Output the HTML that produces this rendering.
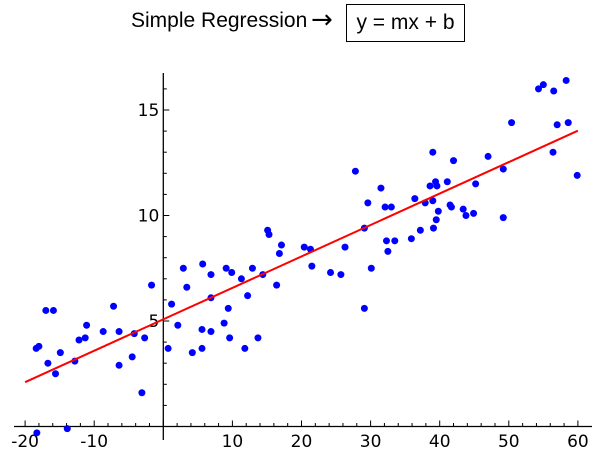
<!DOCTYPE html>
<html><head><meta charset="utf-8"><style>
body{margin:0;background:#fff;width:603px;height:459px;overflow:hidden;font-family:"Liberation Sans",sans-serif}
#title{position:absolute;left:131px;top:9px;font-size:21px;color:#000;white-space:nowrap}
#arrow{position:absolute;left:311px;top:5px;font-size:26px;font-family:"DejaVu Sans",sans-serif;color:#000}
#eq{position:absolute;left:346px;top:4px;width:119px;height:38px;border:1.5px solid #000;font-size:21px;text-align:center;line-height:36px;box-sizing:border-box}
svg{position:absolute;left:0;top:0}
</style></head><body>
<div id="title">Simple Regression</div>
<div id="arrow">→</div>
<div id="eq">y = mx + b</div>
<svg id="chart" width="603" height="459"></svg>
<script>
const xs=[-18.4,-18.0,-17.0,-15.9,-16.7,-15.6,-14.9,-18.3,-13.9,-12.8,-12.2,-11.3,-11.1,-8.7,-7.2,-6.4,-6.4,-4.5,-4.2,-3.1,-2.7,-1.7,1.2,0.7,2.1,2.9,3.4,4.2,5.6,5.6,5.7,6.9,6.9,6.9,8.8,9.1,9.4,9.6,9.9,11.3,11.8,12.2,12.9,13.7,14.4,15.1,15.3,16.4,16.8,17.1,20.4,21.3,21.5,24.2,25.7,26.3,27.8,29.1,29.1,29.6,30.1,31.5,32.1,33.0,32.3,32.5,33.5,35.9,36.4,37.2,37.9,38.6,39.0,39.0,39.4,39.6,39.1,39.5,39.8,41.1,41.5,41.7,42.0,43.4,43.8,44.9,45.2,47.0,49.2,49.2,50.4,54.3,55.0,56.5,56.4,57.0,58.3,58.6,59.9];
const ys=[3.7,3.8,5.5,5.5,3.0,2.5,3.5,-0.3,-0.1,3.1,4.1,4.2,4.8,4.5,5.7,4.5,2.9,3.3,4.4,1.6,4.2,6.7,5.8,3.7,4.8,7.5,6.6,3.5,4.6,3.7,7.7,7.2,6.1,4.5,4.9,7.5,5.6,4.2,7.3,7.0,3.7,6.2,7.5,4.2,7.2,9.3,9.1,6.7,8.2,8.6,8.5,8.4,7.6,7.3,7.2,8.5,12.1,5.6,9.4,10.6,7.5,11.3,10.4,10.4,8.8,8.3,8.8,8.9,10.8,9.3,10.6,11.4,13.0,10.7,11.6,11.4,9.4,9.8,10.2,11.6,10.5,10.4,12.6,10.3,10.0,10.1,11.5,12.8,12.2,9.9,14.4,16.0,16.2,15.9,13.0,14.3,16.4,14.4,11.9];
const xTicks=[-20,-10,0,10,20,30,40,50,60];
const xTickLabels=["-20","-10","","10","20","30","40","50","60"];
const yTicks=[5,10,15];
const fitSlope=[0.149];
const fitIntercept=[5.08];
const fitRange=[-20,60];

const NS="http://www.w3.org/2000/svg";
const svg=document.getElementById('chart');
const X=v=>163.3+v*6.91;
const Y=v=>426.5-v*21.1;
function mk(t,a,p){const e=document.createElementNS(NS,t);for(const k in a)e.setAttribute(k,a[k]);(p||svg).appendChild(e);return e;}
let e;
e=mk('line',{x1:14,y1:Y(0),x2:592,y2:Y(0),stroke:'#000','stroke-width':1.3});


e=mk('line',{x1:X(0),y1:440,x2:X(0),y2:73,stroke:'#000','stroke-width':1.3});


for(let v=-20;v<=60;v+=2){const maj=v%10===0;
e=mk('line',{x1:X(v),y1:Y(0),x2:X(v),y2:Y(0)-(maj?6:3.5),stroke:'#000','stroke-width':1});

}
for(let v=0;v<=16;v+=1){const maj=v%5===0;
e=mk('line',{x1:X(0),y1:Y(v),x2:X(0)+(maj?6:3.5),y2:Y(v),stroke:'#000','stroke-width':1});

}
xTicks.forEach((v,i)=>{if(!xTickLabels[i])return;
e=mk('text',{x:X(v),y:447,'text-anchor':'middle','font-size':17,fill:'#000','font-family':'DejaVu Sans, sans-serif'});
e.textContent=xTickLabels[i];

});
yTicks.forEach(v=>{
e=mk('text',{x:X(0)-4,y:Y(v)+6,'text-anchor':'end','font-size':17,fill:'#000','font-family':'DejaVu Sans, sans-serif'});
e.textContent=String(v);

});
xs.forEach((x,i)=>{
e=mk('circle',{cx:X(x),cy:Y(ys[i]),r:3.5,fill:'#0000ff'});

});
e=mk('line',{x1:X(fitRange[0]),y1:Y(fitSlope[0]*fitRange[0]+fitIntercept[0]),x2:X(fitRange[1]),y2:Y(fitSlope[0]*fitRange[1]+fitIntercept[0]),stroke:'#ff0000','stroke-width':2});


</script>
</body></html>
